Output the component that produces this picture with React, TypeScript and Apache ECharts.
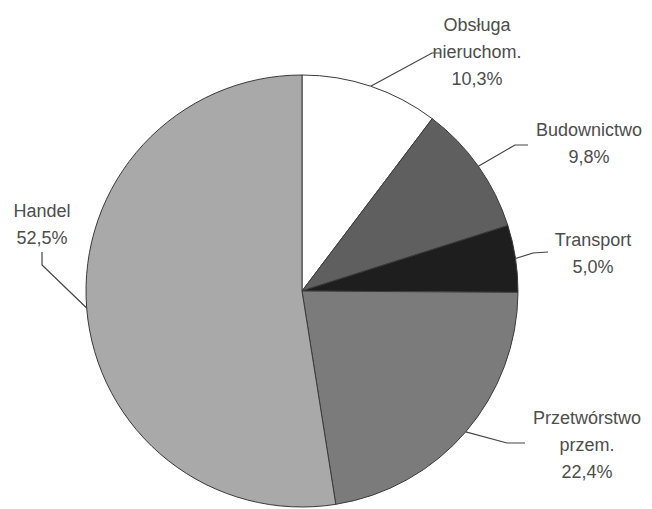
import React, { useEffect, useRef } from "react";
import * as echarts from "echarts";

const categories = ["Obsługa\nnieruchom.", "Budownictwo", "Transport", "Przetwórstwo\nprzem.", "Handel"];
const shares = [10.3, 9.8, 5.0, 22.4, 52.5];
const sliceColors = ["#ffffff", "#5f5f5f", "#1e1e1e", "#7b7b7b", "#a9a9a9"];

// label anchor (center of text block) and guide-line bend points, in px
const labelPlacement = [
  { x: 477, y: 52, bend: [[432, 53], [441, 53]] },
  { x: 589, y: 143, bend: [[515, 145], [528, 145]] },
  { x: 593, y: 253, bend: [[533, 253], [548, 252]] },
  { x: 587, y: 445, bend: [[507, 443], [525, 443]] },
  { x: 42, y: 224, bend: [[42, 265], [42, 252]] },
];

const CX = 302;
const CY = 291;
const R = 216;

export default function App() {
  const ref = useRef<HTMLDivElement>(null);
  useEffect(() => {
    document.body.style.margin = "0";
    if (!ref.current) return;
    const chart = echarts.init(ref.current, null, { renderer: "svg" });
    const total = shares.reduce((a, b) => a + b, 0);
    const midAngles: number[] = [];
    let acc = 0;
    shares.forEach((v) => {
      midAngles.push(((acc + v / 2) / total) * Math.PI * 2);
      acc += v;
    });
    chart.setOption({
      animation: false,
      backgroundColor: "#ffffff",
      series: [
        {
          type: "pie",
          center: [CX, CY],
          radius: R,
          startAngle: 90,
          clockwise: true,
          avoidLabelOverlap: false,
          data: categories.map((name, i) => ({
            name,
            value: shares[i],
            itemStyle: { color: sliceColors[i] },
          })),
          itemStyle: { borderColor: "#3a3a3a", borderWidth: 1 },
          label: {
            show: true,
            position: "outside",
            formatter: (p: any) => `${p.name}\n${Number(p.value).toFixed(1).replace(".", ",")}%`,
            fontFamily: "Liberation Sans, Arial, sans-serif",
            fontSize: 18,
            lineHeight: 27,
            color: "#4d4d4d",
            align: "center",
          },
          labelLine: {
            show: true,
            length: 10,
            length2: 10,
            lineStyle: { color: "#444444", width: 1.2 },
          },
          labelLayout: (params: any) => {
            const i = params.dataIndex;
            const lp = labelPlacement[i];
            const a = midAngles[i];
            const p0 =
              params.labelLinePoints && params.labelLinePoints[0]
                ? params.labelLinePoints[0]
                : [CX + R * Math.sin(a), CY - R * Math.cos(a)];
            return {
              x: lp.x,
              y: lp.y,
              align: "center",
              verticalAlign: "middle",
              labelLinePoints: [p0, lp.bend[0], lp.bend[1]],
            };
          },
        },
      ],
    });
    return () => chart.dispose();
  }, []);
  return <div ref={ref} style={{ width: 652, height: 509 }} />;
}
